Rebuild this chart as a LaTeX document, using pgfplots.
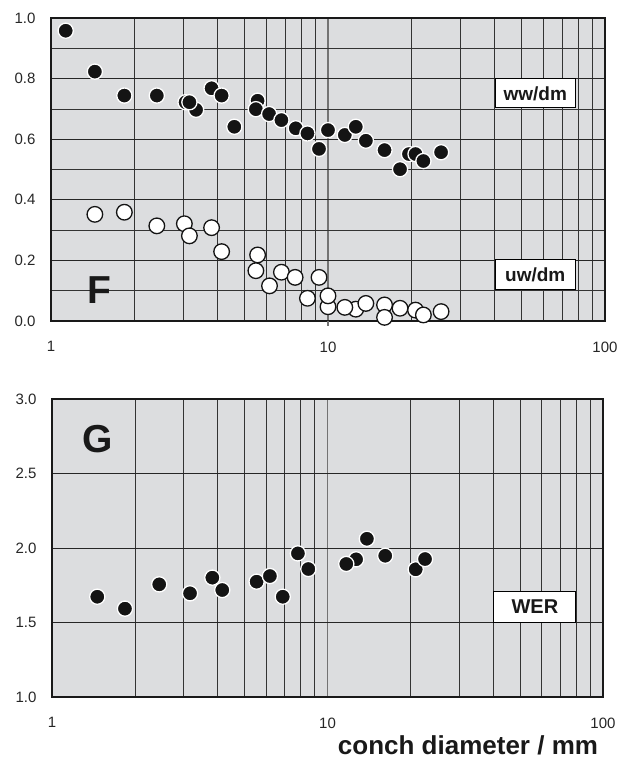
\documentclass[border=0pt]{standalone}
\usepackage{pgfplots}
\pgfplotsset{compat=1.18}
\usepackage{fontspec}
\setmainfont{Liberation Sans}
\definecolor{bg}{RGB}{220,221,223}
\tikzset{lab/.style={draw=black, line width=1pt, fill=white, inner sep=0pt, text=black!90}}
\begin{document}
\begin{tikzpicture}[x=1pt,y=1pt]
\path[use as bounding box] (0,0) rectangle (619,-760);
% ---------- panel F ----------
\begin{axis}[scale only axis, xmode=log, xmin=1, xmax=100, clip=false,
  at={(51pt,-321pt)}, anchor=south west, width=554pt, height=303pt,
  axis background/.style={fill=bg},
  axis line style={black!90, line width=1.3pt},
  log ticks with fixed point,
  xtick={1,10,100},
  minor xtick={2,3,4,5,6,7,8,9,20,30,40,50,60,70,80,90},
  xmajorgrids, xminorgrids, ymajorgrids, yminorgrids,
  major x grid style={black!55, line width=1.1pt},
  minor grid style={black!80, line width=0.8pt},
  major y grid style={black!85, line width=0.8pt},
  tick style={draw=none}, major tick length=0pt, minor tick length=0pt,
  ticklabel style={font=\fontsize{15}{18}\selectfont, text=black!85},
  /pgf/number format/assume math mode=true,
  yticklabel style={xshift=-12pt, /pgf/number format/fixed, /pgf/number format/fixed zerofill, /pgf/number format/precision=1},
  xticklabel style={yshift=-17pt},
  ymin=0, ymax=1, ytick={0,0.2,0.4,0.6,0.8,1.0}, minor ytick={0.1,0.3,0.5,0.7,0.9}]
\draw[black!55, line width=1.1pt] (axis cs:10,0) -- ([yshift=-5pt]axis cs:10,0);
\addplot[only marks, mark=*, mark size=7.6pt, mark options={fill=black!92, draw=white, line width=1.3pt}] coordinates {
(1.13,0.958) (1.44,0.823) (1.84,0.744) (2.41,0.744) (3.06,0.722) (3.34,0.697)
(3.16,0.722) (3.80,0.768) (4.13,0.744) (4.59,0.641) (5.57,0.727) (5.49,0.699)
(6.13,0.683) (6.79,0.663) (7.65,0.636) (8.43,0.619) (9.28,0.568) (10.0,0.630)
(11.5,0.614) (12.6,0.641) (13.7,0.595) (16.0,0.564) (18.2,0.501) (19.6,0.551)
(20.7,0.551) (22.1,0.528) (25.6,0.557)};
\addplot[only marks, mark=*, mark size=7.8pt, mark options={fill=white, draw=black!92, line width=1.3pt}] coordinates {
(1.44,0.352) (1.84,0.359) (2.41,0.314) (3.03,0.321) (3.16,0.281) (3.80,0.308)
(4.13,0.229) (5.57,0.218) (5.49,0.166) (6.15,0.116) (6.79,0.161) (7.61,0.144)
(8.43,0.075) (9.28,0.144) (10.0,0.047) (10.0,0.083) (12.6,0.039) (11.5,0.045)
(13.7,0.058) (16.0,0.053) (16.0,0.012) (18.2,0.042) (20.7,0.036) (22.1,0.020)
(25.6,0.031)};
\node[lab, font=\bfseries\fontsize{19}{21}\selectfont, minimum width=80pt, minimum height=29pt] at (axis cs:56,0.751) {ww/dm};
\node[lab, font=\bfseries\fontsize{19}{21}\selectfont, minimum width=80pt, minimum height=30pt] at (axis cs:56,0.152) {uw/dm};
\node[font=\bfseries\fontsize{39}{40}\selectfont, text=black!90] at (axis cs:1.50,0.102) {F};
\end{axis}
% ---------- panel G ----------
\begin{axis}[scale only axis, xmode=log, xmin=1, xmax=100, clip=false,
  at={(52pt,-697pt)}, anchor=south west, width=551pt, height=298pt,
  axis background/.style={fill=bg},
  axis line style={black!90, line width=1.3pt},
  log ticks with fixed point,
  xtick={1,10,100},
  minor xtick={2,3,4,5,6,7,8,9,20,30,40,50,60,70,80,90},
  xmajorgrids, xminorgrids, ymajorgrids,
  major x grid style={black!55, line width=1.1pt},
  minor grid style={black!80, line width=0.8pt},
  major y grid style={black!85, line width=0.8pt},
  tick style={draw=none}, major tick length=0pt, minor tick length=0pt,
  ticklabel style={font=\fontsize{15}{18}\selectfont, text=black!85},
  /pgf/number format/assume math mode=true,
  yticklabel style={xshift=-12pt, /pgf/number format/fixed, /pgf/number format/fixed zerofill, /pgf/number format/precision=1},
  xticklabel style={yshift=-17pt},
  ymin=1, ymax=3, ytick={1,1.5,2,2.5,3}]
\addplot[only marks, mark=*, mark size=7.6pt, mark options={fill=black!92, draw=white, line width=1.3pt}] coordinates {
(1.46,1.673) (1.84,1.593) (2.45,1.756) (3.17,1.696) (3.82,1.801) (4.15,1.718)
(5.53,1.774) (6.18,1.812) (6.88,1.673) (7.81,1.964) (8.52,1.859) (12.7,1.924)
(11.7,1.893) (13.9,2.062) (16.2,1.948) (20.9,1.857) (22.6,1.926)};
\node[lab, font=\bfseries\fontsize{20}{22}\selectfont, minimum width=82pt, minimum height=31pt] at (axis cs:56.6,1.607) {WER};
\node[font=\bfseries\fontsize{39}{40}\selectfont, text=black!90] at (axis cs:1.46,2.733) {G};
\end{axis}
\node[font=\bfseries\fontsize{26}{30}\selectfont, text=black!90] at (468,-745) {conch diameter / mm};
\end{tikzpicture}
\end{document}
